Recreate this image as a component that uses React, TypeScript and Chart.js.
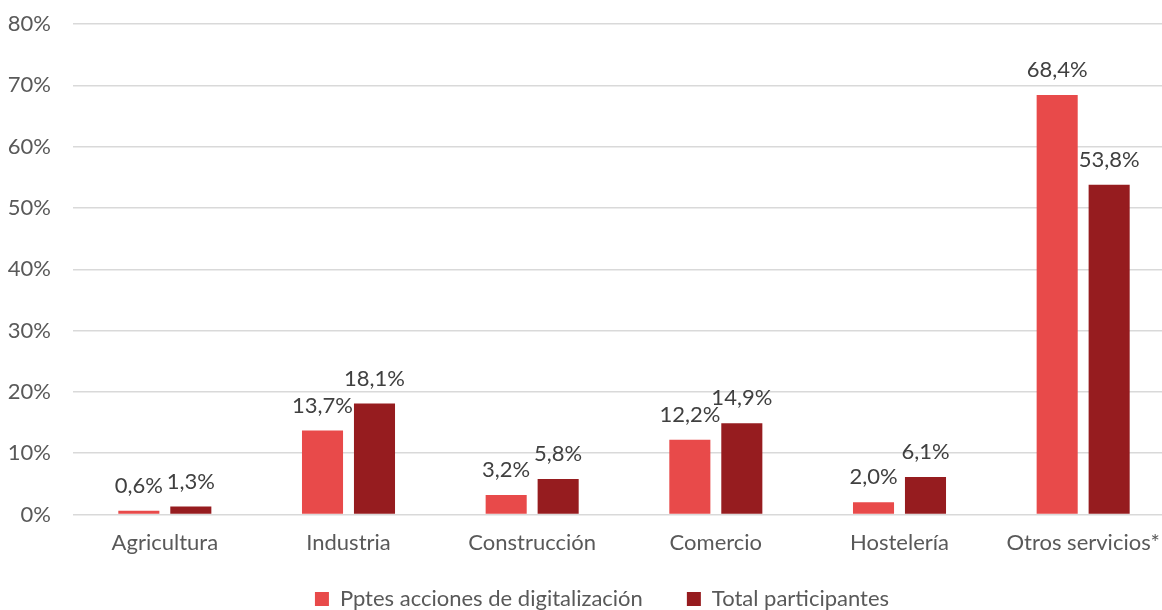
import React, { useEffect, useRef } from "react";
import { Chart, registerables } from "chart.js";

Chart.register(...registerables);

const categories = ["Agricultura", "Industria", "Construcción", "Comercio", "Hostelería", "Otros servicios*"];
const seriesNames = ["Pptes acciones de digitalización", "Total participantes"];
const pendientes = [0.6, 13.7, 3.2, 12.2, 2.0, 68.4];
const totales = [1.3, 18.1, 5.8, 14.9, 6.1, 53.8];
const colors = ["#E84A4A", "#961C1F"];
const yTicks = [0, 10, 20, 30, 40, 50, 60, 70, 80];

const FONT = "Lato, 'Open Sans', sans-serif";
const TEXT = "#595959";
const LEGEND_GAP = "\u2003\u2003\u2002";

const fmt = (v: number) => v.toFixed(1).replace(".", ",") + "%";

const labelPlugin = {
  id: "barLabels",
  afterDatasetsDraw(chart: any) {
    const ctx = chart.ctx;
    ctx.save();
    ctx.font = `22px ${FONT}`;
    ctx.fillStyle = "#404040";
    ctx.textAlign = "center";
    ctx.textBaseline = "alphabetic";
    chart.data.datasets.forEach((ds: any, i: number) => {
      const meta = chart.getDatasetMeta(i);
      meta.data.forEach((el: any, j: number) => {
        ctx.fillText(fmt(ds.data[j]), el.x, el.y - 18);
      });
    });
    ctx.restore();
  },
};

export default function App() {
  const ref = useRef<HTMLCanvasElement>(null);
  useEffect(() => {
    document.body.style.margin = "0";
    document.body.style.overflow = "hidden";
    const chart = new Chart(ref.current!, {
      type: "bar",
      data: {
        labels: categories,
        datasets: [
          { label: seriesNames[0], data: pendientes, backgroundColor: colors[0] },
          { label: seriesNames[1], data: totales, backgroundColor: colors[1] },
        ],
      },
      options: {
        animation: false,
        responsive: false,
        maintainAspectRatio: false,
        layout: { padding: { top: 24, left: 0, right: 5, bottom: 0 } },
        datasets: {
          bar: { categoryPercentage: 0.566, barPercentage: 0.79 },
        },
        plugins: {
          legend: {
            position: "bottom",
            fullSize: false,
            maxHeight: 22,
            labels: {
              color: TEXT,
              font: { family: FONT, size: 22 },
              boxWidth: 14,
              boxHeight: 14,
              padding: 0,
              generateLabels: (c: any) =>
                Chart.defaults.plugins.legend.labels.generateLabels(c).map((l: any) => ({
                  ...l,
                  text: l.text + LEGEND_GAP,
                  lineWidth: 0,
                })),
            },
          },
          tooltip: { enabled: false },
        },
        scales: {
          x: {
            afterFit: (s: any) => { s.height = 73.5; },
            grid: { display: false, drawTicks: false, tickLength: 0 },
            border: { display: false },
            ticks: { color: TEXT, font: { family: FONT, size: 22 }, padding: 15, autoSkip: false, maxRotation: 0 },
          },
          y: {
            min: 0,
            max: 80,
            afterFit: (s: any) => { s.width = 73; s.paddingTop = 0; s.paddingBottom = 0; },
            afterBuildTicks: (s: any) => { s.ticks = yTicks.map((v) => ({ value: v })); },
            grid: { color: "#D9D9D9", lineWidth: 1.5, drawTicks: false },
            border: { display: false },
            ticks: {
              color: TEXT,
              font: { family: FONT, size: 22 },
              padding: 22,
              callback: (v: any) => v + "%",
            },
          },
        },
      },
      plugins: [labelPlugin],
    });
    return () => chart.destroy();
  }, []);
  return (
    <div style={{ position: "absolute", left: 0, top: 0, width: 1180, height: 610 }}>
      <canvas ref={ref} width={1180} height={610} />
    </div>
  );
}
